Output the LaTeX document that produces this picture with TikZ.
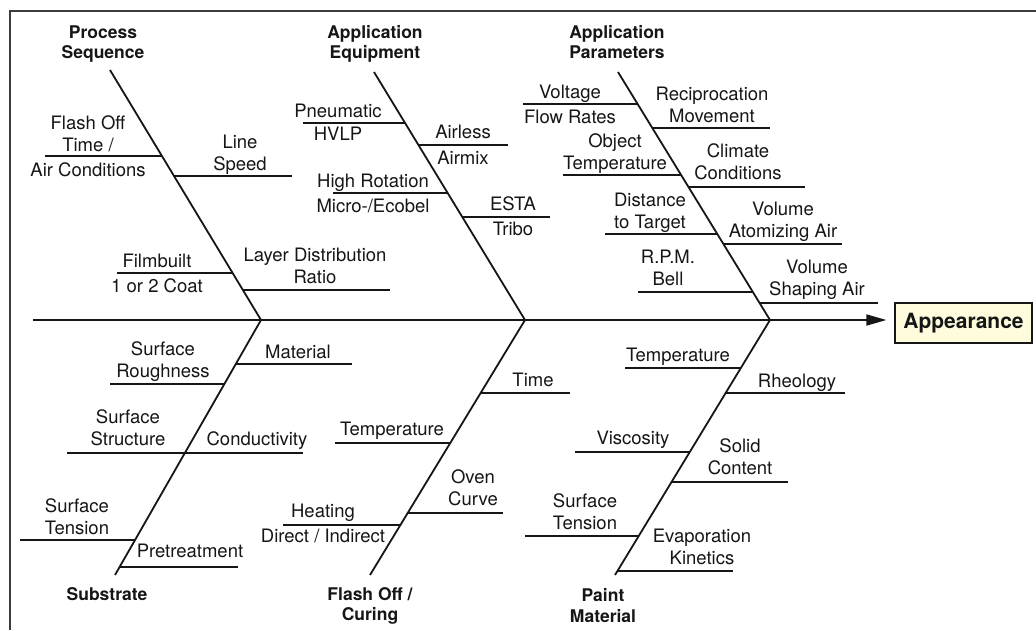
\documentclass[tikz,border=0pt]{standalone}
\usepackage{fontspec}
\setmainfont{TeX Gyre Heros}
\usetikzlibrary{arrows.meta}
\definecolor{ink}{RGB}{22,22,22}
\definecolor{frameink}{RGB}{60,60,60}
\definecolor{boxfill}{RGB}{255,252,222}
\tikzset{
  lbl/.style={font=\fontsize{18.5}{22}\selectfont, align=center, anchor=base, inner sep=0pt, text=ink},
  hdr/.style={font=\bfseries\fontsize{17.5}{20.5}\selectfont, align=center, anchor=base, inner sep=0pt, text=ink},
  bone/.style={line width=1.8pt, draw=ink},
  rib/.style={line width=1.7pt, draw=ink},
  effect/.style={draw=ink, line width=1.3pt, fill=boxfill, minimum width=137pt, minimum height=40pt, inner sep=0pt,
                 font=\bfseries\fontsize{21}{24}\selectfont, text=ink}
}
\begin{document}
\begin{tikzpicture}[x=1pt,y=-1pt]
\useasboundingbox (0,0) rectangle (1036,630);
\fill[white] (0,0) rectangle (1036,630);
% frame
\draw[line width=1.6pt, frameink] (10,630) -- (10,11) -- (1036,11);

% spine and effect
\coordinate (s0) at (33,320);
\node[effect] (app) at (963.5,323) {Appearance};
\draw[bone, -{Triangle[length=20pt,width=11pt]}, shorten >=8pt] (s0) -- (s0 -| app.west);

% junctions and bone ends
\coordinate (j1) at (261,320);
\coordinate (j2) at (525,320);
\coordinate (j3) at (770,320);
\coordinate (t1) at (110,70);
\coordinate (t2) at (374,72);
\coordinate (t3) at (618,72);
\coordinate (b1) at (115,575);
\coordinate (b2) at (370,575);
\coordinate (b3) at (615,575);
\draw[bone] (t1) -- (j1) -- (b1);
\draw[bone] (t2) -- (j2) -- (b2);
\draw[bone] (t3) -- (j3) -- (b3);

% ribs
\foreach \xa/\xb/\yy in {
  45/162/156, 174/292/176, 117/233/273, 243/390/290,
  303/405/123, 418/508/145, 333/448/193, 462/550/217,
  523/638/104, 652/770/128, 563/681/175, 688/805/187, 605/717/234, 723/842/244, 638/753/292, 760/878/303,
  110/224/384, 236/352/364, 67/185/453, 185/303/453, 20/135/540, 120/238/567,
  481/570/393, 335/450/443, 408/503/513, 283/400/525,
  625/741/368, 726/845/393, 575/690/452, 672/788/482, 525/639/536, 617/733/571}
  \draw[rib] (\xa,\yy) -- (\xb,\yy);

% headers (anchor = baseline of last line)
\node[hdr] (hPS) at (103,58.5) {Process\\Sequence};
\node[hdr] (hAE) at (375,58.5) {Application\\Equipment};
\node[hdr] (hAP) at (617,58.5) {Application\\Parameters};
\node[hdr] (hSU) at (107,600) {Substrate};
\node[hdr] (hFC) at (370,620.5) {Flash Off /\\Curing};
\node[hdr] (hPM) at (603,622) {Paint\\Material};

% process sequence
\node[lbl] (l1) at (88,151) {Flash Off\\Time /};
\node[lbl] (l2) at (88,176) {Air Conditions};
\node[lbl] (l3) at (240,170) {Line\\Speed};
\node[lbl] (l4) at (157,267) {Filmbuilt};
\node[lbl] (l5) at (157,292) {1 or 2 Coat};
\node[lbl] (l6) at (315,283) {Layer Distribution\\Ratio};
% application equipment
\node[lbl] (l7) at (338,117) {Pneumatic};
\node[lbl] (l8) at (338,140) {HVLP};
\node[lbl] (l9) at (463,138) {Airless};
\node[lbl] (l10) at (463,164) {Airmix};
\node[lbl] (l11) at (373,187) {High Rotation};
\node[lbl] (l12) at (373,212) {Micro-/Ecobel};
\node[lbl] (l13) at (513,210) {ESTA};
\node[lbl] (l14) at (513,235) {Tribo};
% application parameters
\node[lbl] (l15) at (570,98) {Voltage};
\node[lbl] (l16) at (570,123) {Flow Rates};
\node[lbl] (l17) at (712,122) {Reciprocation\\Movement};
\node[lbl] (l18) at (615,169) {Object\\Temperature};
\node[lbl] (l19) at (738,179) {Climate\\Conditions};
\node[lbl] (l20) at (650,228) {Distance\\to Target};
\node[lbl] (l21) at (783,237) {Volume\\Atomizing Air};
\node[lbl] (l22) at (668,285) {R.P.M.\\Bell};
\node[lbl] (l23) at (817,295) {Volume\\Shaping Air};
% substrate
\node[lbl] (l24) at (163,377) {Surface\\Roughness};
\node[lbl] (l25) at (298,358) {Material};
\node[lbl] (l26) at (128,445) {Surface\\Structure};
\node[lbl] (l27) at (257,445) {Conductivity};
\node[lbl] (l28) at (77,534) {Surface\\Tension};
\node[lbl] (l29) at (190,557) {Pretreatment};
% flash off / curing
\node[lbl] (l30) at (533,386) {Time};
\node[lbl] (l31) at (392,435) {Temperature};
\node[lbl] (l32) at (473,505) {Oven\\Curve};
\node[lbl] (l33) at (323,517) {Heating};
\node[lbl] (l34) at (323,542) {Direct / Indirect};
% paint material
\node[lbl] (l35) at (678,361) {Temperature};
\node[lbl] (l36) at (797,387) {Rheology};
\node[lbl] (l37) at (633,444) {Viscosity};
\node[lbl] (l38) at (740,474) {Solid\\Content};
\node[lbl] (l39) at (585,529) {Surface\\Tension};
\node[lbl] (l40) at (702,564) {Evaporation\\Kinetics};
\end{tikzpicture}
\end{document}
